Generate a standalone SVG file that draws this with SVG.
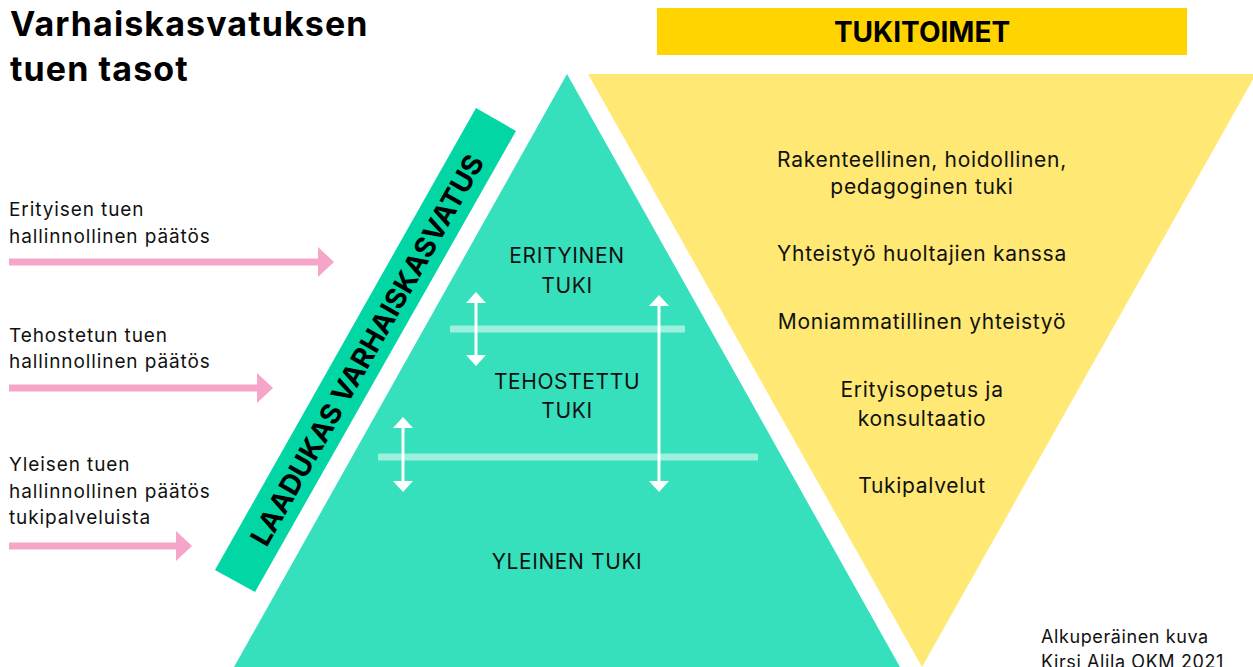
<svg xmlns="http://www.w3.org/2000/svg" width="1253" height="667" viewBox="0 0 1253 667">
<style>
.t{font-family:Inter,"Liberation Sans",sans-serif;fill:#111}
.title{font-weight:700;font-size:34px;letter-spacing:1.1px;fill:#000}
.lab{font-size:19px;letter-spacing:0.9px}
.cred{font-size:18px;letter-spacing:0.6px}
.tri{font-size:21px;letter-spacing:0.6px;text-anchor:middle}
.yel{font-size:21px;letter-spacing:0.7px;text-anchor:middle}
.band{font-weight:700;font-size:28px;text-anchor:middle;fill:#000}
.head{font-weight:700;font-size:28px;text-anchor:middle;fill:#000}
.pink{stroke:#F4A5C8;stroke-width:7;fill:none}
.wht{stroke:#fff;stroke-width:3;fill:none}
.sep{stroke:#9CF0DC;stroke-width:7}
</style>
<defs>
<marker id="pk" markerUnits="userSpaceOnUse" markerWidth="16" markerHeight="30" viewBox="0 0 16 30" refX="0" refY="15" orient="auto"><path d="M0,0 L16,15 L0,30z" fill="#F4A5C8"/></marker>
<marker id="wh" markerUnits="userSpaceOnUse" markerWidth="11" markerHeight="20" viewBox="0 0 11 20" refX="0" refY="10" orient="auto-start-reverse"><path d="M0,0 L11,10 L0,20z" fill="#fff"/></marker>
</defs>
<rect width="1253" height="667" fill="#fff"/>
<g id="title">
<text class="t title" x="10" y="36">Varhaiskasvatuksen</text>
<text class="t title" x="10" y="81">tuen tasot</text>
</g>
<g id="tukitoimet-header">
<rect x="657" y="8" width="530" height="47" fill="#FFD400"/>
<text class="t head" x="922" y="42">TUKITOIMET</text>
</g>
<g id="support-triangle">
<polygon points="588,74 1256,74 922,667" fill="#FFE873"/>
<text class="t yel" x="922" y="167">Rakenteellinen, hoidollinen,</text>
<text class="t yel" x="922" y="194">pedagoginen tuki</text>
<text class="t yel" x="922" y="261">Yhteistyö huoltajien kanssa</text>
<text class="t yel" x="922" y="329">Moniammatillinen yhteistyö</text>
<text class="t yel" x="922" y="397">Erityisopetus ja</text>
<text class="t yel" x="922" y="426">konsultaatio</text>
<text class="t yel" x="922" y="493">Tukipalvelut</text>
</g>
<g id="level-triangle">
<polygon points="567,74 900,667 234,667" fill="#36E0BC"/>
<line class="sep" x1="450" y1="329" x2="685" y2="329"/>
<line class="sep" x1="378" y1="457" x2="758" y2="457"/>
</g>
<g id="erityinen">
<text class="t tri" x="567" y="263">ERITYINEN</text>
<text class="t tri" x="567" y="293">TUKI</text>
</g>
<g id="tehostettu">
<text class="t tri" x="567" y="389">TEHOSTETTU</text>
<text class="t tri" x="567" y="418">TUKI</text>
</g>
<g id="yleinen">
<text class="t tri" x="567" y="569">YLEINEN TUKI</text>
</g>
<g id="laadukas-band">
<polygon points="476,108 516,131 255,592 215,570" fill="#02D6A5"/>
<text class="t band" transform="translate(367,350) rotate(-60.5)" x="0" y="10">LAADUKAS VARHAISKASVATUS</text>
</g>
<g id="decision-labels">
<text class="t lab" x="9" y="216">Erityisen tuen</text>
<text class="t lab" x="9" y="243">hallinnollinen päätös</text>
<text class="t lab" x="9" y="342">Tehostetun tuen</text>
<text class="t lab" x="9" y="368">hallinnollinen päätös</text>
<text class="t lab" x="9" y="471">Yleisen tuen</text>
<text class="t lab" x="9" y="498">hallinnollinen päätös</text>
<text class="t lab" x="9" y="524">tukipalveluista</text>
</g>
<g id="connectors">
<line class="pink" x1="9" y1="262" x2="318" y2="262" marker-end="url(#pk)"/>
<line class="pink" x1="9" y1="388" x2="257" y2="388" marker-end="url(#pk)"/>
<line class="pink" x1="9" y1="546" x2="176" y2="546" marker-end="url(#pk)"/>
<line class="wht" x1="476" y1="303" x2="476" y2="355" marker-start="url(#wh)" marker-end="url(#wh)"/>
<line class="wht" x1="659" y1="306" x2="659" y2="481" marker-start="url(#wh)" marker-end="url(#wh)"/>
<line class="wht" x1="403" y1="428" x2="403" y2="481" marker-start="url(#wh)" marker-end="url(#wh)"/>
</g>
<g id="credit">
<text class="t cred" x="1041" y="643">Alkuperäinen kuva</text>
<text class="t cred" x="1041" y="668">Kirsi Alila OKM 2021</text>
</g>
</svg>
